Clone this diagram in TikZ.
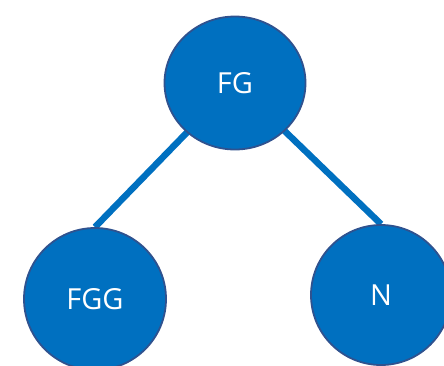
\documentclass[tikz,border=0pt]{standalone}
\usepackage{fontspec}
\setmainfont{Open Sans}
\usetikzlibrary{shapes.geometric,backgrounds}
\definecolor{nodefill}{HTML}{0070C0}
\definecolor{nodeborder}{HTML}{2F528F}
\definecolor{linkcol}{HTML}{0070C0}
\tikzset{
  treenode/.style={ellipse,fill=nodefill,draw=nodeborder,line width=1.8pt,inner sep=0pt,
    text=white,font=\fontsize{29}{31}\selectfont},
  link/.style={draw=linkcol,line width=6.5pt}
}
\begin{document}
\begin{tikzpicture}[x=1pt,y=1pt]
\useasboundingbox (0,0) rectangle (444,-365);
\node[treenode,minimum width=141pt,minimum height=133pt] (fg) at (235,-83) {FG};
\node[treenode,minimum width=142pt,minimum height=142pt] (fgg) at (95,-299) {FGG};
\node[treenode,minimum width=140pt,minimum height=140pt] (n) at (381,-295) {N};
\begin{pgfonlayer}{background}
\draw[link] (fg.center) -- (fgg.north);
\draw[link] (fg.center) -- (n.north);
\end{pgfonlayer}
\end{tikzpicture}
\end{document}
